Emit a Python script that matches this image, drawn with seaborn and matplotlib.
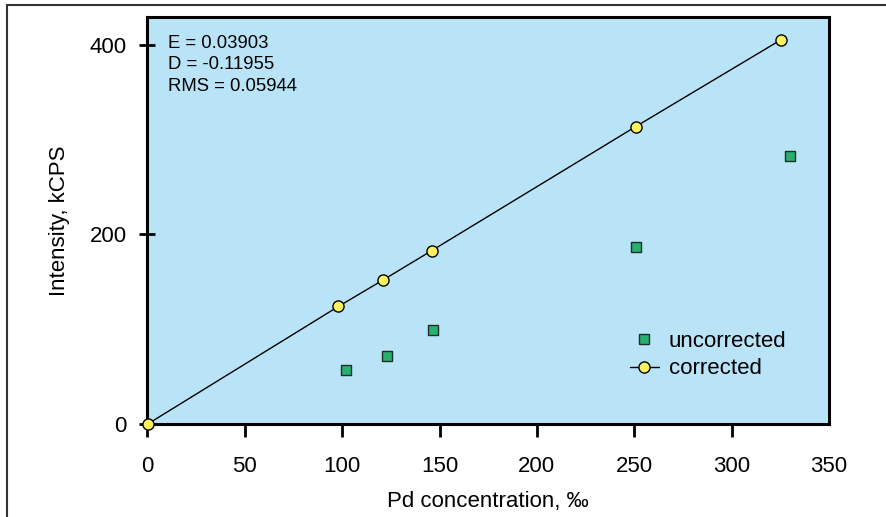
import matplotlib
matplotlib.use("Agg")
import matplotlib.pyplot as plt
import seaborn as sns
import pandas as pd
from matplotlib.lines import Line2D

# Data
x_uncorrected = [102, 123, 146.5, 251, 330]
y_uncorrected = [57, 72, 99, 187, 282.5]
x_corrected = [0.5, 98, 121, 146, 250.7, 325.2]
y_corrected = [0.5, 124, 152, 183, 313.8, 405.3]
x_ticks = [0, 50, 100, 150, 200, 250, 300, 350]
y_ticks = [0, 200, 400]
stats_lines = ["E = 0.03903", "D = -0.11955", "RMS = 0.05944"]

sns.set_theme(style="white")
plt.rcParams['font.family'] = ['Liberation Sans', 'DejaVu Sans']
plt.rcParams['text.color'] = 'black'
plt.rcParams['axes.labelcolor'] = 'black'
plt.rcParams['xtick.color'] = 'black'
plt.rcParams['ytick.color'] = 'black'

fig = plt.figure(figsize=(8.87, 5.17), dpi=100)
ax = fig.add_axes([147.5/887, 1-424/517, (829-147.5)/887, (424-17)/517])
ax.set_facecolor("#B9E4F8")

df_u = pd.DataFrame({"x": x_uncorrected, "y": y_uncorrected})
df_c = pd.DataFrame({"x": x_corrected, "y": y_corrected})

sns.lineplot(data=df_c, x="x", y="y", ax=ax, color="black", linewidth=1.0,
             marker="o", markersize=8, markerfacecolor="#FFF25E",
             markeredgecolor="black", markeredgewidth=1.0, zorder=3, clip_on=False)
sns.scatterplot(data=df_u, x="x", y="y", ax=ax, marker="s", s=45,
                color="#27B06E", edgecolor="#1f2f27", linewidth=1.0, zorder=4)

ax.set_xlim(0, 350)
ax.set_ylim(0, 429.5)
ax.set_xticks(x_ticks)
ax.set_yticks(y_ticks)
ax.set_xticklabels([str(v) for v in x_ticks], fontsize=16)
ax.set_yticklabels([str(v) for v in y_ticks], fontsize=16)
ax.tick_params(axis='x', bottom=True, direction='out', length=9, width=2,
               color='black', labelcolor='black', pad=14)
ax.tick_params(axis='y', left=True, direction='inout', length=12, width=2,
               color='black', labelcolor='black', pad=9)
ax.xaxis.get_major_ticks()[-1].tick1line.set_visible(False)
for s in ax.spines.values():
    s.set_visible(True)
    s.set_color("black")
    s.set_linewidth(2.2)

ax.set_xlabel("Pd concentration, ‰", fontsize=16, labelpad=10, color='black')
ax.set_ylabel("Intensity, kCPS", fontsize=16, labelpad=14, color='black')

ys = [0.936, 0.8845, 0.830]
for t, yy in zip(stats_lines, ys):
    ax.text(0.030, yy, t, transform=ax.transAxes, fontsize=13.3, va='center',
            ha='left', color='black')

handles = [
    Line2D([], [], linestyle='none', marker='s', markersize=6.5,
           markerfacecolor="#27B06E", markeredgecolor="#1f2f27", markeredgewidth=1.0),
    Line2D([], [], color='black', linewidth=1.0, marker='o', markersize=8,
           markerfacecolor="#FFF25E", markeredgecolor="black", markeredgewidth=1.0),
]
leg = ax.legend(handles, ["uncorrected", "corrected"], loc='center left',
                bbox_to_anchor=(0.708, 0.1695), frameon=False, fontsize=16,
                handlelength=1.3, handletextpad=0.45, labelspacing=0.3, borderpad=0,
                borderaxespad=0)
for t in leg.get_texts():
    t.set_color('black')

# partial figure frame (left and top)
fig.add_artist(Line2D([7/887, 7/887], [0, 1-4.5/517], transform=fig.transFigure,
                      color="#333333", linewidth=1.5))
fig.add_artist(Line2D([7/887, 1], [1-4.5/517, 1-4.5/517], transform=fig.transFigure,
                      color="#333333", linewidth=1.5))

fig.savefig("out.png", dpi=100)
